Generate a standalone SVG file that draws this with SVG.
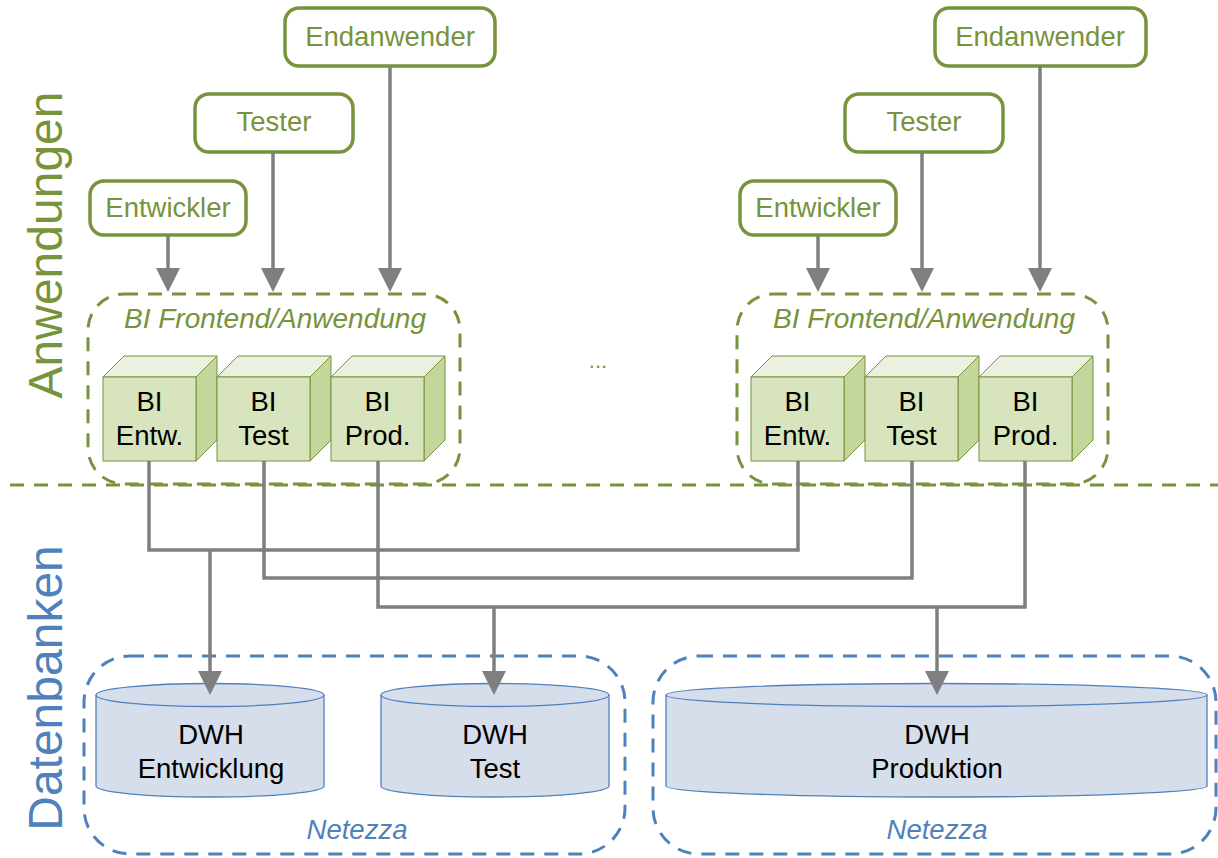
<svg xmlns="http://www.w3.org/2000/svg" width="1218" height="858" viewBox="0 0 1218 858">
  <style>
    .role rect { fill: #ffffff; stroke: #77933C; stroke-width: 3.5; }
    .role text { font-family: "Liberation Sans", Arial, sans-serif; font-size: 27.5px; fill: #77933C; text-anchor: middle; }
    .grp-green { fill: none; stroke: #77933C; stroke-width: 3; stroke-dasharray: 14 10; }
    .grp-blue { fill: none; stroke: #4F81BD; stroke-width: 3; stroke-dasharray: 14 10; }
    .cap-green { font-family: "Liberation Sans", Arial, sans-serif; font-size: 28px; font-style: italic; fill: #77933C; text-anchor: middle; }
    .cap-blue { font-family: "Liberation Sans", Arial, sans-serif; font-size: 27.5px; font-style: italic; fill: #4F81BD; text-anchor: middle; }
    .front { fill: #D7E4BD; stroke: #77933C; stroke-width: 1; }
    .top { fill: #EBF1DE; stroke: #77933C; stroke-width: 1; }
    .side { fill: #C3D69B; stroke: #77933C; stroke-width: 1; }
    .lbl { font-family: "Liberation Sans", Arial, sans-serif; font-size: 27.5px; fill: #000000; text-anchor: middle; }
    .db { fill: #D5DEEA; stroke: #4F81BD; stroke-width: 1.3; }
    .conn { fill: none; stroke: #7F7F7F; stroke-width: 3.5; }
    .section { font-family: "Liberation Sans", Arial, sans-serif; font-size: 48px; text-anchor: middle; }
  </style>
  <defs>
    <marker id="arrow" markerUnits="userSpaceOnUse" markerWidth="24" markerHeight="24" viewBox="0 0 23 23" refX="0" refY="11.5" orient="auto">
      <path d="M0,0 L23,11.5 L0,23 z" fill="#7F7F7F"/>
    </marker>
    <!-- one BI cube, origin at the top-left of the front face -->
    <g id="cube">
      <polygon class="top" points="0,0 21,-21 114,-21 93,0"/>
      <polygon class="side" points="93,0 114,-21 114,63 93,84"/>
      <rect class="front" x="0" y="0" width="93" height="84"/>
    </g>
  </defs>

  <!-- section labels -->
  <text class="section" fill="#77933C" transform="translate(62,245) rotate(-90)">Anwendungen</text>
  <text class="section" fill="#4F81BD" transform="translate(62,688) rotate(-90)">Datenbanken</text>

  <!-- divider between applications and databases -->
  <line id="divider" x1="10" y1="485" x2="1218" y2="485" class="grp-green"/>

  <!-- left application stack -->
  <g id="frontend-left">
    <rect class="grp-green" x="88" y="294" width="372" height="190" rx="36"/>
    <text class="cap-green" x="275" y="328">BI Frontend/Anwendung</text>
  </g>
  <g id="bi-entw-left">
    <use href="#cube" x="103" y="377"/>
    <text class="lbl" x="149.5" y="411">BI</text>
    <text class="lbl" x="149.5" y="445">Entw.</text>
  </g>
  <g id="bi-test-left">
    <use href="#cube" x="217" y="377"/>
    <text class="lbl" x="263.5" y="411">BI</text>
    <text class="lbl" x="263.5" y="445">Test</text>
  </g>
  <g id="bi-prod-left">
    <use href="#cube" x="331" y="377"/>
    <text class="lbl" x="377.5" y="411">BI</text>
    <text class="lbl" x="377.5" y="445">Prod.</text>
  </g>

  <!-- right application stack -->
  <g id="frontend-right">
    <rect class="grp-green" x="737" y="294" width="371" height="190" rx="36"/>
    <text class="cap-green" x="924" y="328">BI Frontend/Anwendung</text>
  </g>
  <g id="bi-entw-right">
    <use href="#cube" x="751" y="377"/>
    <text class="lbl" x="797.5" y="411">BI</text>
    <text class="lbl" x="797.5" y="445">Entw.</text>
  </g>
  <g id="bi-test-right">
    <use href="#cube" x="865" y="377"/>
    <text class="lbl" x="911.5" y="411">BI</text>
    <text class="lbl" x="911.5" y="445">Test</text>
  </g>
  <g id="bi-prod-right">
    <use href="#cube" x="979" y="377"/>
    <text class="lbl" x="1025.5" y="411">BI</text>
    <text class="lbl" x="1025.5" y="445">Prod.</text>
  </g>

  <text id="ellipsis" x="598" y="368" font-family="'Liberation Sans', Arial, sans-serif" font-size="22" fill="#77933C" text-anchor="middle">...</text>

  <!-- user roles -->
  <g id="entwickler-left" class="role">
    <rect x="90" y="181" width="156" height="54" rx="14"/>
    <text x="168" y="217">Entwickler</text>
  </g>
  <g id="tester-left" class="role">
    <rect x="195" y="94" width="158" height="58" rx="14"/>
    <text x="274" y="131">Tester</text>
  </g>
  <g id="endanwender-left" class="role">
    <rect x="285" y="8" width="210" height="58" rx="14"/>
    <text x="390" y="46">Endanwender</text>
  </g>
  <g id="entwickler-right" class="role">
    <rect x="740" y="181" width="156" height="54" rx="14"/>
    <text x="818" y="217">Entwickler</text>
  </g>
  <g id="tester-right" class="role">
    <rect x="845" y="94" width="158" height="58" rx="14"/>
    <text x="924" y="131">Tester</text>
  </g>
  <g id="endanwender-right" class="role">
    <rect x="935" y="8" width="211" height="58" rx="14"/>
    <text x="1040" y="46">Endanwender</text>
  </g>

  <!-- database hosts -->
  <g id="netezza-left">
    <rect class="grp-blue" x="84" y="656" width="541" height="198" rx="46"/>
    <text class="cap-blue" x="357" y="839">Netezza</text>
  </g>
  <g id="netezza-right">
    <rect class="grp-blue" x="653" y="656" width="563" height="198" rx="46"/>
    <text class="cap-blue" x="937" y="839">Netezza</text>
  </g>

  <g id="dwh-entwicklung">
    <path class="db" d="M96,695 L96,786 A114,11 0 0 0 324,786 L324,695"/>
    <ellipse class="db" cx="210" cy="695" rx="114" ry="11.5"/>
    <text class="lbl" x="211" y="744">DWH</text>
    <text class="lbl" x="211" y="778">Entwicklung</text>
  </g>
  <g id="dwh-test">
    <path class="db" d="M381,695 L381,786 A114,11 0 0 0 609,786 L609,695"/>
    <ellipse class="db" cx="495" cy="695" rx="114" ry="11.5"/>
    <text class="lbl" x="495" y="744">DWH</text>
    <text class="lbl" x="495" y="778">Test</text>
  </g>
  <g id="dwh-produktion">
    <path class="db" d="M666,695 L666,786 A270.5,11 0 0 0 1207,786 L1207,695"/>
    <ellipse class="db" cx="936.5" cy="695" rx="270.5" ry="11.5"/>
    <text class="lbl" x="937" y="744">DWH</text>
    <text class="lbl" x="937" y="778">Produktion</text>
  </g>

  <!-- connectors -->
  <g id="connectors" class="conn">
    <line x1="168" y1="235" x2="168" y2="268" marker-end="url(#arrow)"/>
    <line x1="273" y1="152" x2="273" y2="268" marker-end="url(#arrow)"/>
    <line x1="390" y1="66" x2="390" y2="268" marker-end="url(#arrow)"/>
    <line x1="818" y1="235" x2="818" y2="268" marker-end="url(#arrow)"/>
    <line x1="922" y1="152" x2="922" y2="268" marker-end="url(#arrow)"/>
    <line x1="1040" y1="66" x2="1040" y2="268" marker-end="url(#arrow)"/>

    <polyline points="149,461 149,550 798,550 798,461"/>
    <polyline points="264,461 264,578 912,578 912,461"/>
    <polyline points="378,461 378,607 1025,607 1025,461"/>

    <line x1="210" y1="550" x2="210" y2="671" marker-end="url(#arrow)"/>
    <line x1="494" y1="607" x2="494" y2="671" marker-end="url(#arrow)"/>
    <line x1="937" y1="607" x2="937" y2="671" marker-end="url(#arrow)"/>
  </g>
</svg>
